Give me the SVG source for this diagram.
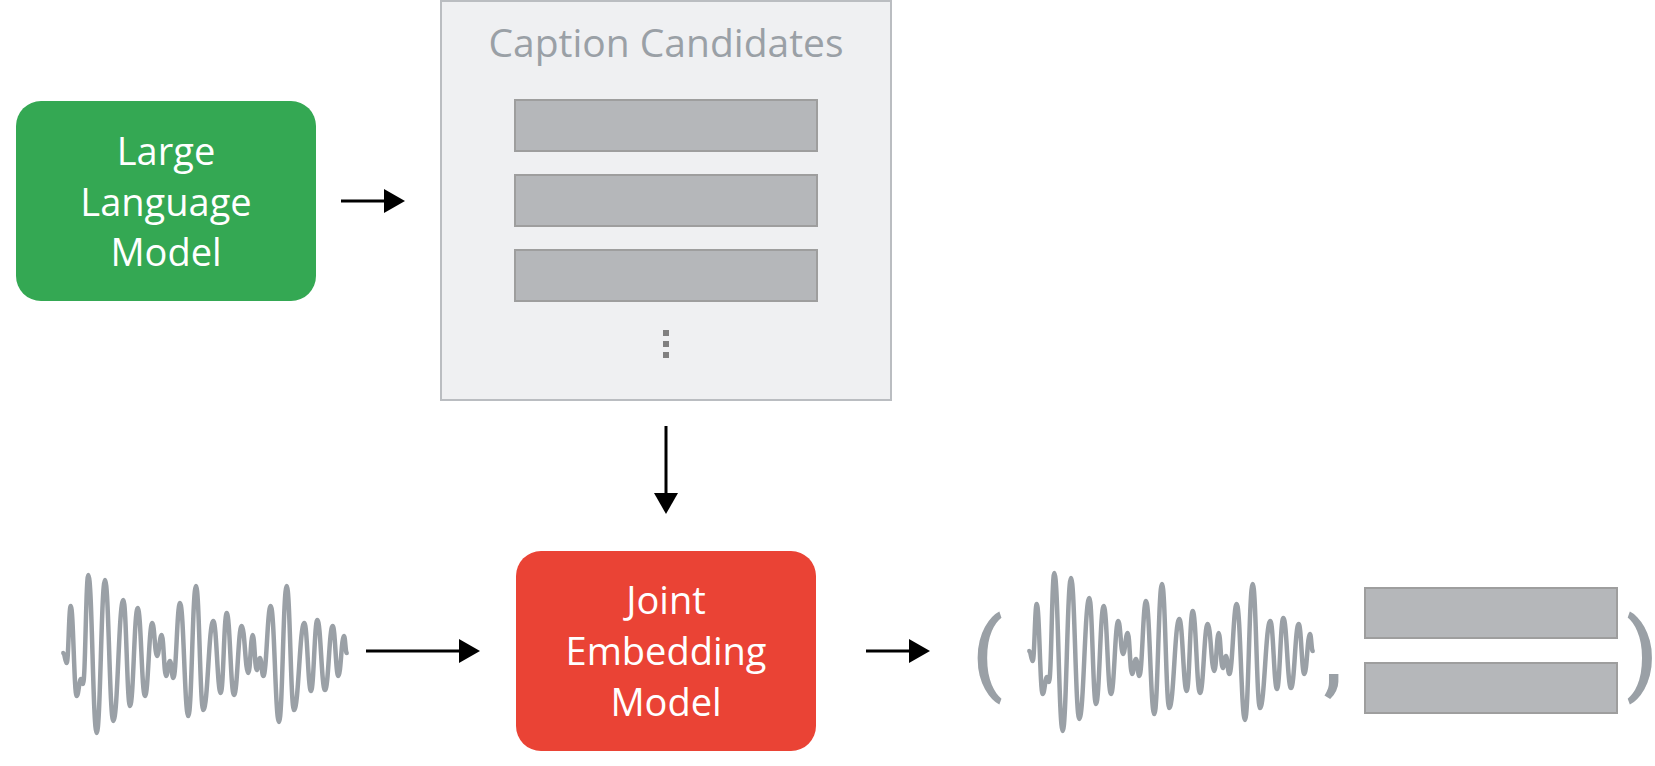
<svg xmlns="http://www.w3.org/2000/svg" xmlns:xlink="http://www.w3.org/1999/xlink" width="1655" height="766" viewBox="0 0 1655 766">
<style>
.lbl{font-family:"Open Sans",Roboto,"Liberation Sans",sans-serif;font-size:38px;fill:#ffffff;text-anchor:middle}
.title{font-family:"Open Sans",Roboto,"Liberation Sans",sans-serif;font-size:39px;fill:#9aa0a6;text-anchor:middle}
.paren{font-family:Roboto,"Liberation Sans",sans-serif;font-size:90px;font-weight:500;fill:#9aa0a6}
.bar{fill:#b5b7ba;stroke:#9e9e9e;stroke-width:2}
.wave{fill:none;stroke:#9aa0a6;stroke-width:4.5;stroke-linejoin:round;stroke-linecap:round}
.conn{stroke:#000;stroke-width:3;fill:none}
</style>
<defs>
<marker id="ah" viewBox="0 0 21 24" refX="16" refY="12" markerWidth="21" markerHeight="24" markerUnits="userSpaceOnUse" orient="auto">
<path d="M0,0 L21,12 L0,24 Z" fill="#000"/>
</marker>
<path id="wavePath" class="wave" d="M63.3,653 C64.8,653 65.2,663 66.7,663 C68.5,663 68.9,606 70.7,606 C73.4,606 74,696 76.7,696 C78.6,696 79.1,679 81,679 C81.9,679 82.1,684 83,684 C85.4,684 85.9,575 88.3,575 C92.1,575 92.9,733 96.7,733 C100.4,733 101.3,580 105,580 C108.7,580 109.6,721 113.3,721 C117.8,721 118.8,600 123.3,600 C126.3,600 127,706 130,706 C133.5,706 134.2,608 137.7,608 C141,608 141.7,696 145,696 C148.3,696 149,623 152.3,623 C154.4,623 154.9,656 157,656 C159.1,656 159.6,635 161.7,635 C163.6,635 164.1,676 166,676 C167.8,676 168.2,661 170,661 C171.5,661 171.8,678 173.3,678 C176.3,678 177,603 180,603 C183.7,603 184.6,716 188.3,716 C191.8,716 192.5,586 196,586 C199.3,586 200,710 203.3,710 C207.8,710 208.8,621 213.3,621 C216.6,621 217.4,693 220.7,693 C223.4,693 224,613 226.7,613 C230,613 230.7,695 234,695 C237.5,695 238.2,626 241.7,626 C244.7,626 245.3,673 248.3,673 C250.3,673 250.7,635 252.7,635 C254.5,635 254.9,670 256.7,670 C258.2,670 258.5,658 260,658 C261.5,658 261.8,676 263.3,676 C266.6,676 267.4,606 270.7,606 C274.4,606 275.3,722 279,722 C282.5,722 283.2,586 286.7,586 C290,586 290.7,710 294,710 C298.6,710 299.7,623 304.3,623 C307.3,623 308,691 311,691 C313.8,691 314.5,620 317.3,620 C320.8,620 321.5,690 325,690 C328.5,690 329.2,626 332.7,626 C335.2,626 335.8,676 338.3,676 C340.9,676 341.4,636 344,636 C345.2,636 345.5,653 346.7,653"/>
</defs>
<rect width="1655" height="766" fill="#ffffff"/>
<g id="llm">
<rect x="16" y="101" width="300" height="200" rx="25" fill="#34a853"/>
<text class="lbl" x="166" y="165">Large</text>
<text class="lbl" x="166" y="216">Language</text>
<text class="lbl" x="166" y="266">Model</text>
</g>
<g id="caption-candidates">
<rect x="441" y="1" width="450" height="399" fill="#eff0f2" stroke="#babdc1" stroke-width="2"/>
<text class="title" x="666" y="57">Caption Candidates</text>
<rect class="bar" x="515" y="100" width="302" height="51"/>
<rect class="bar" x="515" y="175" width="302" height="51"/>
<rect class="bar" x="515" y="250" width="302" height="51"/>
<rect x="663" y="330" width="6" height="6" fill="#808080"/>
<rect x="663" y="341" width="6" height="6" fill="#808080"/>
<rect x="663" y="352" width="6" height="6" fill="#808080"/>
</g>
<g id="audio-input">
<use xlink:href="#wavePath" href="#wavePath"/>
</g>
<g id="jem">
<rect x="516" y="551" width="300" height="200" rx="25" fill="#ea4335"/>
<text class="lbl" x="666" y="614">Joint</text>
<text class="lbl" x="666" y="665">Embedding</text>
<text class="lbl" x="666" y="716">Model</text>
</g>
<g id="output-pair">
<text class="paren" x="972" y="684">(</text>
<use xlink:href="#wavePath" href="#wavePath" transform="translate(966,-2)"/>
<text class="paren" x="1323" y="684">,</text>
<rect class="bar" x="1365" y="588" width="252" height="50"/>
<rect class="bar" x="1365" y="663" width="252" height="50"/>
<text class="paren" x="1626" y="684">)</text>
</g>
<g id="connectors">
<path class="conn" d="M341,201 H400" marker-end="url(#ah)"/>
<path class="conn" d="M666,426 V509" marker-end="url(#ah)"/>
<path class="conn" d="M366,651 H475" marker-end="url(#ah)"/>
<path class="conn" d="M866,651 H925" marker-end="url(#ah)"/>
</g>
</svg>
